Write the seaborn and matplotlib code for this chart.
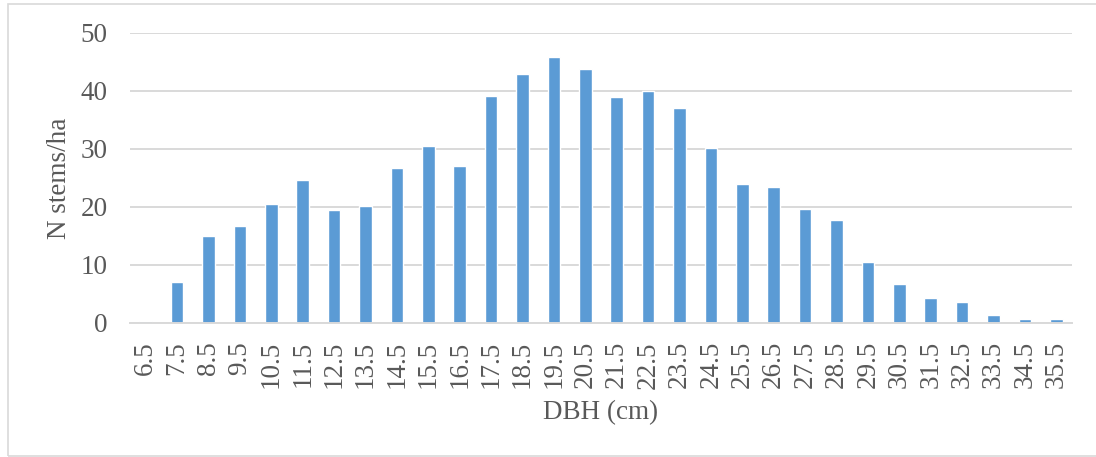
import matplotlib
matplotlib.use("Agg")
import matplotlib.pyplot as plt
from matplotlib.patches import Rectangle
import seaborn as sns

# Diameter classes (cm) and stem density per class
dbh_classes = ["6.5", "7.5", "8.5", "9.5", "10.5", "11.5", "12.5", "13.5", "14.5", "15.5",
               "16.5", "17.5", "18.5", "19.5", "20.5", "21.5", "22.5", "23.5", "24.5", "25.5",
               "26.5", "27.5", "28.5", "29.5", "30.5", "31.5", "32.5", "33.5", "34.5", "35.5"]
stems_per_ha = [0.3, 7.0, 15.0, 16.7, 20.5, 24.6, 19.4, 20.2, 26.7, 30.5,
                27.0, 39.2, 43.0, 45.9, 43.8, 38.9, 40.0, 37.0, 30.2, 24.0,
                23.4, 19.7, 17.7, 10.5, 6.7, 4.3, 3.7, 1.3, 0.75, 0.75]
y_ticks = [0, 10, 20, 30, 40, 50]

sns.set_theme(style="white")
plt.rcParams["font.family"] = ["Liberation Serif", "DejaVu Serif"]

text_color = "#595959"
grid_color = "#D9D9D9"
bar_color = "#5B9BD5"
fs = 19.5

fig = plt.figure(figsize=(10.96, 4.57), dpi=100)
ax = fig.add_axes([130 / 1096, 1 - 323 / 457, (1072 - 130) / 1096, (323 - 33) / 457])

sns.barplot(x=dbh_classes, y=stems_per_ha, color=bar_color, saturation=1,
            width=0.4, ax=ax, zorder=3)

ax.set_xlim(-0.5, len(dbh_classes) - 0.5)
ax.set_ylim(0, 50)
ax.set_yticks(y_ticks)
ax.set_yticklabels([str(t) for t in y_ticks])
ax.yaxis.grid(True, color=grid_color, linewidth=1.4, zorder=0)
ax.xaxis.grid(False)

for side in ("top", "right", "left"):
    ax.spines[side].set_visible(False)
ax.spines["bottom"].set_color(grid_color)
ax.spines["bottom"].set_linewidth(1.4)
ax.spines["bottom"].set_zorder(4)

ax.tick_params(axis="y", length=0, pad=16, labelsize=fs, labelcolor=text_color)
ax.tick_params(axis="x", length=0, pad=13, labelsize=fs, labelcolor=text_color,
               labelrotation=90)

ax.set_xlabel("DBH (cm)", fontsize=fs, color=text_color, labelpad=8)
ax.set_ylabel("N stems/ha", fontsize=fs, color=text_color, labelpad=6)

# Light frame around the chart area
fig.patches.append(Rectangle((8 / 1096, 1 / 457), 1.2, 1 - 5 / 457,
                             transform=fig.transFigure, fill=False,
                             edgecolor="#D9D9D9", linewidth=1.2, zorder=-1))

fig.savefig("out.png", dpi=100, facecolor="white")
